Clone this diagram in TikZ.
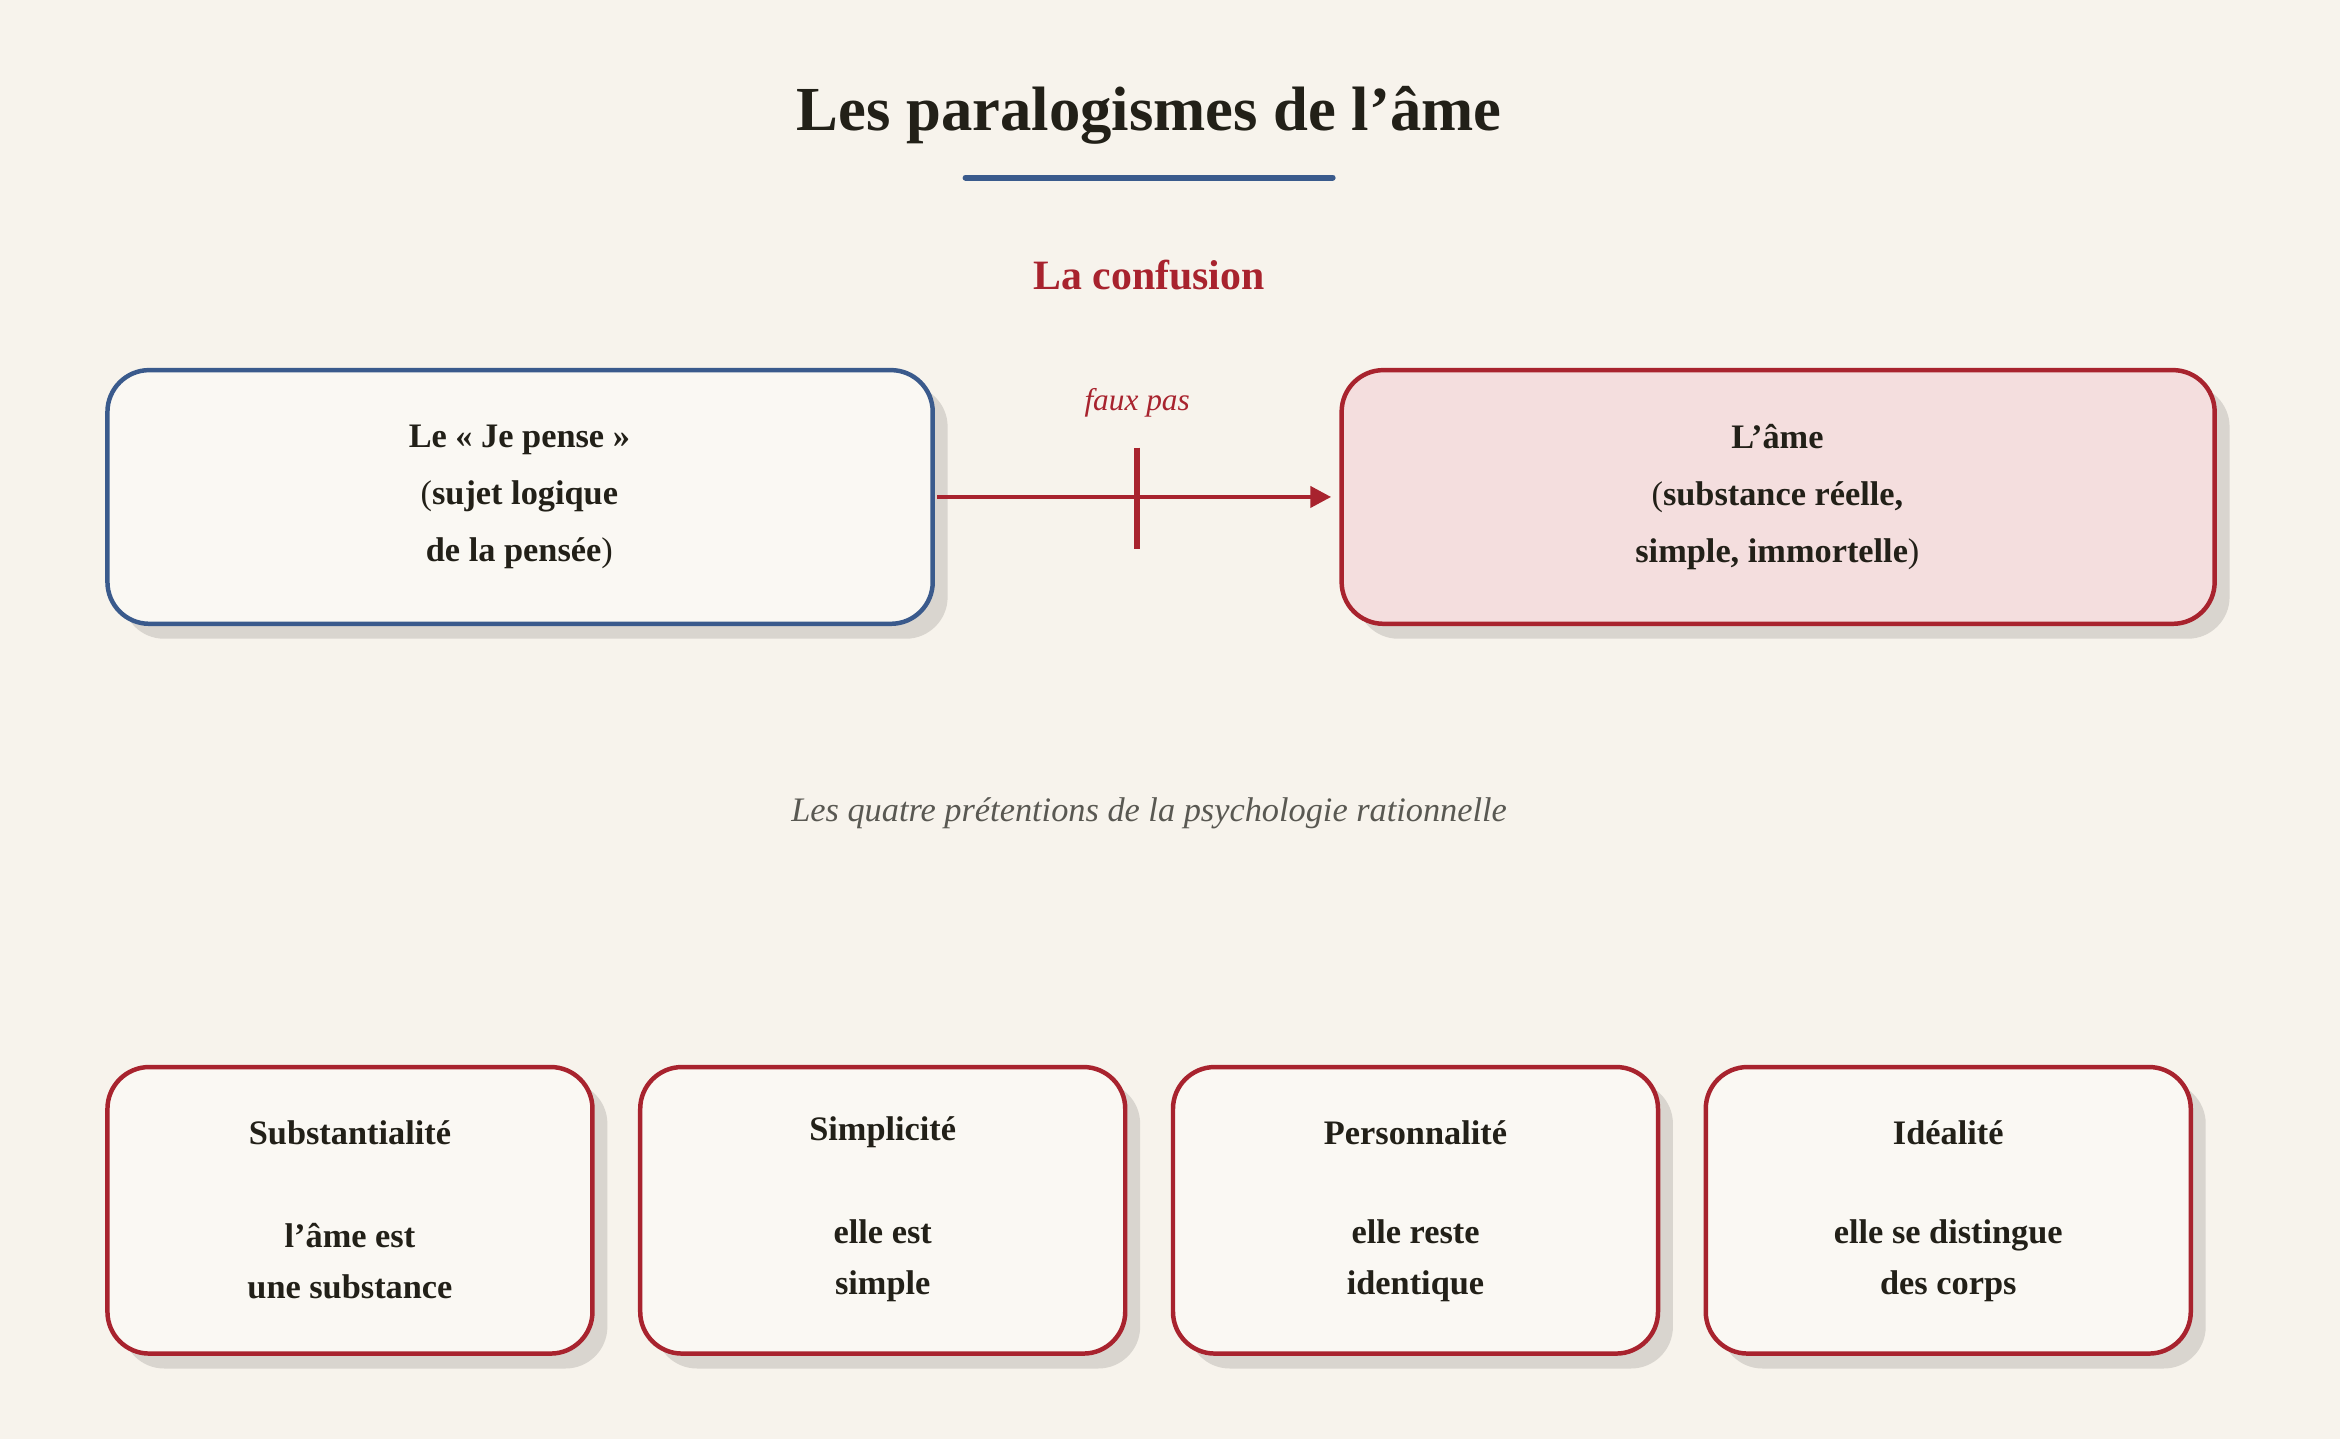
\documentclass[tikz,border=0pt]{standalone}
\usepackage{fontspec}
\setmainfont{Liberation Serif}[Ligatures=ResetAll]
\usetikzlibrary{arrows.meta}
\definecolor{bg}{HTML}{F7F3EC}
\definecolor{kblue}{HTML}{3A5A8C}
\definecolor{kred}{HTML}{A8232E}
\definecolor{ink}{HTML}{222018}
\definecolor{shad}{HTML}{D9D5CF}
\definecolor{paper}{HTML}{FAF8F3}
\definecolor{pink}{HTML}{F4DEDE}
\begin{document}
\begin{tikzpicture}[x=1pt,y=-1pt,
  card/.style={rounded corners=28pt,line width=3pt},
  shadow/.style={rounded corners=28pt,fill=shad},
  lbl/.style={font=\fontsize{23}{38}\selectfont\bfseries,text=ink,align=center}]
\fill[bg] (0,0) rectangle (1568,964);
\useasboundingbox (0,0) rectangle (1568,964);
\node[font=\fontsize{42}{48}\selectfont\bfseries,text=ink] (title) at (770,77) {Les paralogismes de l'âme};
\draw[kblue,line width=4pt,line cap=round] (647,119) -- (893,119);
\node[font=\fontsize{28}{32}\selectfont\bfseries,text=kred] (conf) at (770,184) {La confusion};
% top boxes
\fill[shadow] (82,258) rectangle (635,428);
\draw[card,kblue,fill=paper] (72,248) rectangle (625,418);
\node[lbl] (je) at (348,333) {Le « Je pense »\\{\mdseries(}sujet logique\\de la pensée{\mdseries)}};
\fill[shadow] (909,258) rectangle (1494,428);
\draw[card,kred,fill=pink] (899,248) rectangle (1484,418);
\node[lbl] (ame) at (1191,333) {L'âme\\{\mdseries(}substance réelle,\\simple, immortelle{\mdseries)}};
\coordinate (a1) at (628,333);
\coordinate (a2) at (892,333);
\draw[kred,line width=3pt,-{Triangle[length=14pt,width=14pt]}] (a1) -- (a2);
\draw[kred,line width=4pt] (762,300) -- (762,368);
\node[font=\fontsize{21}{24}\selectfont\itshape,text=kred] (faux) at (762,270) {faux pas};
\node[font=\fontsize{23}{26}\selectfont\itshape,text=ink!75] (sub) at (770,545) {Les quatre prétentions de la psychologie rationnelle};
% bottom boxes
\foreach \x/\t/\a/\b [count=\i] in {72/Substantialité/l'âme est/une substance,429/Simplicité/elle est/simple,786/Personnalité/elle reste/identique,1143/Idéalité/elle se distingue/des corps}{
  \fill[shadow] (\x+10,725) rectangle (\x+335,917);
  \draw[card,kred,fill=paper] (\x,715) rectangle (\x+325,907);
  \node[lbl] (t\i) at (\x+162.5,759) {\t};
  \node[lbl,font=\fontsize{23}{34}\selectfont\bfseries] (d\i) at (\x+162.5,845) {\a\\\b};
}
\end{tikzpicture}
\end{document}
